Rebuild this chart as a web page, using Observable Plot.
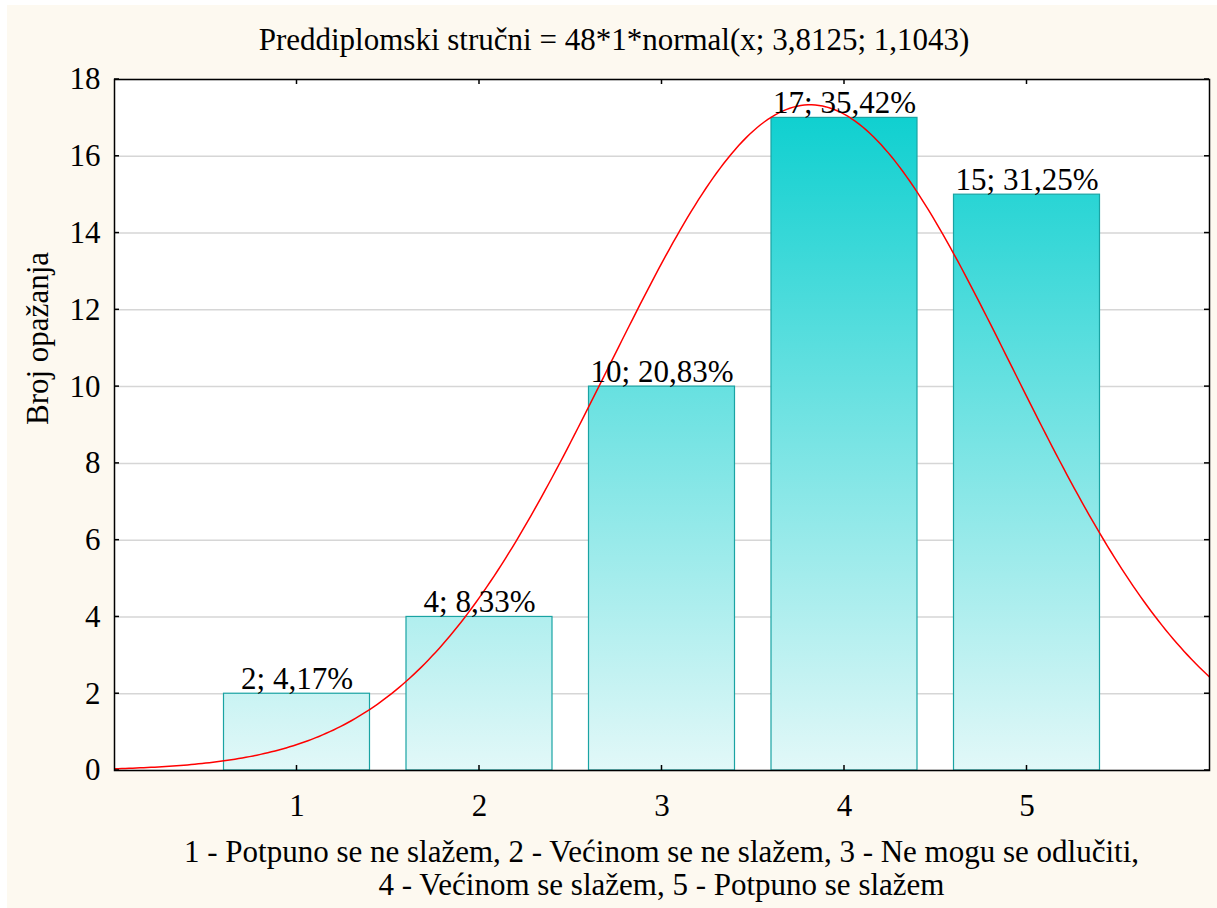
<!DOCTYPE html>
<html>
<head>
<meta charset="utf-8">
<script src="https://cdn.jsdelivr.net/npm/d3@7"></script>
<script src="https://cdn.jsdelivr.net/npm/@observablehq/plot@0.6"></script>
<style>
  html, body { margin: 0; padding: 0; background: #ffffff; }
  #wrap { position: relative; width: 1217px; height: 908px; overflow: hidden; font-family: "Liberation Serif", "Times New Roman", serif; color: #000; }
  #bg { position: absolute; left: 7px; top: 5px; right: 0; bottom: 0; background: #fdf9f0; }
  #chart { position: absolute; left: 0; top: 0; }
  #title { position: absolute; left: 0; width: 1228px; top: 22px; text-align: center; font-size: 31px; line-height: 36px; white-space: nowrap; }
  #caption { position: absolute; left: 114px; width: 1095px; top: 835px; text-align: center; font-size: 31px; line-height: 33px; white-space: nowrap; }
</style>
</head>
<body>
<div id="wrap">
  <div id="bg"></div>
  <div id="chart"></div>
  <div id="title"></div>
  <div id="caption"></div>
</div>
<script>
// ---- data ----
const titleText = "Preddiplomski stručni = 48*1*normal(x; 3,8125; 1,1043)";
const yLabel = "Broj opažanja";
const captionLines = [
  "1 - Potpuno se ne slažem, 2 - Većinom se ne slažem, 3 - Ne mogu se odlučiti,",
  "4 - Većinom se slažem, 5 - Potpuno se slažem"
];
const categories = [1, 2, 3, 4, 5];
const counts = [2, 4, 10, 17, 15];
const percents = ["4,17%", "8,33%", "20,83%", "35,42%", "31,25%"];
const yTicks = [0, 2, 4, 6, 8, 10, 12, 14, 16, 18];
const xTicks = [1, 2, 3, 4, 5];
// fitted normal curve parameters (from the title)
const fitN = 48, fitMean = 3.8125, fitSd = 1.1043;

const bars = categories.map((c, i) => ({c, n: counts[i], label: `${counts[i]}; ${percents[i]}`}));
const curve = d3.range(0, 6.0001, 0.02).map(x => ({
  x, y: fitN * Math.exp(-0.5 * ((x - fitMean) / fitSd) ** 2) / (fitSd * Math.sqrt(2 * Math.PI))
}));

document.getElementById("title").textContent = titleText;
document.getElementById("caption").innerHTML = captionLines.map(s => `<div>${s}</div>`).join("");

const NS = "http://www.w3.org/2000/svg";
function el(name, attrs) {
  const e = document.createElementNS(NS, name);
  for (const k in attrs) e.setAttribute(k, attrs[k]);
  return e;
}

// gradient defs in user space so the colour depends on height in the plot
const gradientMark = (index, scales) => {
  const defs = el("defs", {});
  const g = el("linearGradient", {id: "barGrad", gradientUnits: "userSpaceOnUse", x1: 0, x2: 0, y1: scales.y(17), y2: scales.y(0)});
  g.appendChild(el("stop", {offset: "0", "stop-color": "#10d0d0"}));
  g.appendChild(el("stop", {offset: "1", "stop-color": "#e2f8f8"}));
  defs.appendChild(g);
  return defs;
};

// inward ticks on all four sides
const innerTicks = (index, scales) => {
  const g = el("g", {stroke: "#000", "stroke-width": 1.5});
  const x0 = scales.x(0), x1 = scales.x(6), y0 = scales.y(0), y1 = scales.y(18);
  for (const t of xTicks) {
    const x = scales.x(t);
    g.appendChild(el("line", {x1: x, x2: x, y1: y0, y2: y0 - 5}));
    g.appendChild(el("line", {x1: x, x2: x, y1: y1, y2: y1 + 5}));
  }
  for (const t of yTicks) {
    const y = scales.y(t);
    g.appendChild(el("line", {x1: x0, x2: x0 + 5, y1: y, y2: y}));
    g.appendChild(el("line", {x1: x1, x2: x1 - 5, y1: y, y2: y}));
  }
  return g;
};

const chart = Plot.plot({
  width: 1217,
  height: 908,
  marginLeft: 114,
  marginRight: 8,
  marginTop: 79,
  marginBottom: 138,
  style: {background: "transparent", fontFamily: "Liberation Serif, Times New Roman, serif", fontSize: "31px", color: "#000"},
  x: {domain: [0, 6]},
  y: {domain: [0, 18]},
  marks: [
    gradientMark,
    Plot.frame({fill: "#ffffff"}),
    Plot.gridY(yTicks, {stroke: "#d6d6d6", strokeOpacity: 1, strokeWidth: 1.5}),
    Plot.rectY(bars, {x1: d => d.c - 0.4, x2: d => d.c + 0.4, y1: 0, y2: "n", fill: "url(#barGrad)", stroke: "#1aa3a3", strokeWidth: 1.2}),
    Plot.lineY(curve, {x: "x", y: "y", stroke: "#ff0000", strokeWidth: 1.5, clip: true}),
    Plot.text(bars, {x: "c", y: "n", text: "label", lineAnchor: "bottom", dy: -5, fontSize: 31, fill: "#000"}),
    Plot.axisY(yTicks, {tickSize: 0, tickPadding: 14, fontSize: 31, label: null, tickFormat: d => String(d)}),
    Plot.axisX(xTicks, {tickSize: 0, tickPadding: 23, fontSize: 31, label: null, tickFormat: d => String(d)}),
    Plot.text([yLabel], {frameAnchor: "left", rotate: -90, dx: -76, lineAnchor: "middle", fontSize: 31, fill: "#000"}),
    innerTicks,
    Plot.frame({stroke: "#000", strokeWidth: 1.5})
  ]
});
document.getElementById("chart").appendChild(chart);
</script>
</body>
</html>
